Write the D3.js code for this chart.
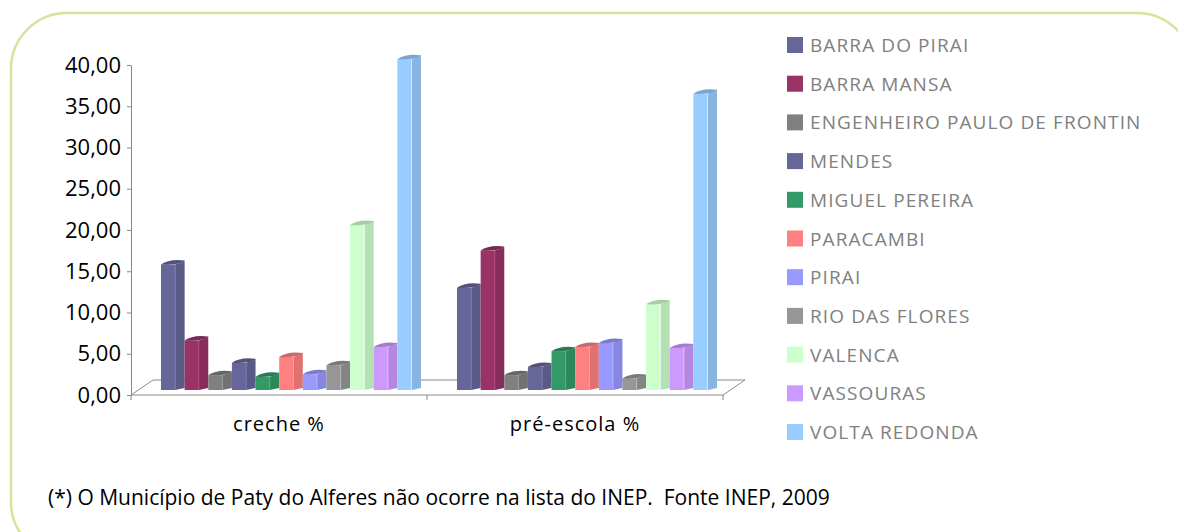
<!DOCTYPE html>
<html>
<head>
  <meta charset="utf-8">
  <title>Creche e pré-escola</title>
  <script src="https://d3js.org/d3.v7.min.js"></script>
  <style>
    body { margin: 0; background: #ffffff; font-family: 'Open Sans', sans-serif; }
    svg { display: block; }
    .axis path, .axis line { stroke: #868686; }
  </style>
</head>
<body>
  <div id="chart"></div>
  <script>
    // data
    const categories = ["creche %", "pré-escola %"];
    const municipios = ["BARRA DO PIRAI", "BARRA MANSA", "ENGENHEIRO PAULO DE FRONTIN", "MENDES",
      "MIGUEL PEREIRA", "PARACAMBI", "PIRAI", "RIO DAS FLORES", "VALENCA", "VASSOURAS", "VOLTA REDONDA"];
    const creche = [15.2, 6.0, 1.8, 3.3, 1.6, 4.0, 1.9, 3.0, 20.0, 5.2, 40.1];
    const preEscola = [12.4, 16.9, 1.8, 2.8, 4.7, 5.2, 5.7, 1.4, 10.4, 5.1, 35.9];
    const colors = ["#666699", "#993366", "#808080", "#666699", "#339966", "#ff8080",
      "#9999ff", "#969696", "#ccffcc", "#cc99ff", "#99ccff"];
    const yTicks = [0, 5, 10, 15, 20, 25, 30, 35, 40];
    const footnote = "(*) O Município de Paty do Alferes não ocorre na lista do INEP.  Fonte INEP, 2009";

    const W = 1178, H = 532;
    const svg = d3.select("#chart").append("svg").attr("width", W).attr("height", H);

    // rounded frame
    svg.append("rect")
      .attr("x", 11).attr("y", 13).attr("width", 1182).attr("height", 545)
      .attr("rx", 56).attr("ry", 56)
      .attr("fill", "none").attr("stroke", "#d7e39b").attr("stroke-width", 2.5);

    // scales
    const y = d3.scaleLinear().domain([0, 40]).range([395, 65]);
    const x = d3.scaleBand().domain(categories).range([131, 723]);
    const xi = d3.scaleBand().domain(municipios).range([18, 278]);
    const depth = { dx: 22, dy: -15 };     // floor depth
    const barShift = { dx: 12, dy: -5 };   // bars sit in the middle of the floor

    // floor
    const x0 = x.range()[0], x1 = x.range()[1], y0 = y(0);
    svg.append("path")
      .attr("d", `M${x0},${y0} L${x1},${y0} L${x1 + depth.dx},${y0 + depth.dy} L${x0 + depth.dx},${y0 + depth.dy} Z`)
      .attr("fill", "none").attr("stroke", "#8c8c8c").attr("stroke-width", 1);

    // x ticks at band edges
    const edges = categories.map(c => x(c)).concat([x1]);
    svg.selectAll(".xtick").data(edges).join("line")
      .attr("x1", d => d).attr("x2", d => d)
      .attr("y1", y0).attr("y2", y0 + 5)
      .attr("stroke", "#868686");

    // y axis
    svg.append("g")
      .attr("class", "axis")
      .attr("transform", `translate(${x0},0)`)
      .call(d3.axisLeft(y).tickValues(yTicks).tickSize(4).tickSizeOuter(0)
        .tickFormat(d => d.toFixed(2).replace(".", ",")))
      .call(g => g.selectAll("text").attr("x", -10)
        .attr("fill", "#000").style("font-size", "22px").style("font-family", "'Open Sans', sans-serif"));

    // bars
    const series = [creche, preEscola];
    const groups = svg.selectAll(".grp").data(categories).join("g")
      .attr("class", "grp")
      .attr("transform", (c) => `translate(${x(c) + barShift.dx},${barShift.dy})`);

    const bw = xi.bandwidth();
    groups.each(function (c, gi) {
      const g = d3.select(this);
      const rows = municipios.map((m, i) => ({ m, v: series[gi][i], col: colors[i] }));
      const bar = g.selectAll(".bar").data(rows).join("g").attr("class", "bar");
      const split = 0.6;
      // front face
      bar.append("rect")
        .attr("x", d => xi(d.m)).attr("y", d => y(d.v))
        .attr("width", bw * split).attr("height", d => y0 - y(d.v))
        .attr("fill", d => d.col);
      // side face
      bar.append("path")
        .attr("d", d => {
          const a = xi(d.m) + bw * split, b = xi(d.m) + bw, t = y(d.v);
          return `M${a},${t} L${b},${t - 3} L${b},${y0 - 2} L${a},${y0} Z`;
        })
        .attr("fill", d => d3.color(d.col).darker(0.35));
      // edge highlight
      bar.append("line")
        .attr("x1", d => xi(d.m) + bw * split).attr("x2", d => xi(d.m) + bw * split)
        .attr("y1", d => y(d.v)).attr("y2", y0)
        .attr("stroke", d => d3.color(d.col).brighter(0.6)).attr("stroke-width", 0.8);
      // cap
      bar.append("path")
        .attr("d", d => {
          const a = xi(d.m), b = a + bw, t = y(d.v);
          return `M${a},${t} Q${a + bw * 0.35},${t - 6} ${b},${t - 4} L${b},${t - 3} Q${a + bw * 0.6},${t + 1} ${a},${t} Z`;
        })
        .attr("fill", d => d3.color(d.col).darker(0.6));
    });

    // category labels
    svg.selectAll(".cat").data(categories).join("text")
      .attr("x", c => x(c) + x.bandwidth() / 2)
      .attr("y", 431)
      .attr("text-anchor", "middle")
      .style("font-size", "20px")
      .style("letter-spacing", "1px")
      .attr("fill", "#000")
      .text(c => c);

    // legend
    const leg = svg.selectAll(".leg").data(municipios).join("g")
      .attr("transform", (d, i) => `translate(787,${45 + i * 38.7})`);
    leg.append("rect").attr("x", 0).attr("y", -8).attr("width", 16).attr("height", 16)
      .attr("fill", (d, i) => colors[i]);
    leg.append("text").attr("x", 23).attr("y", 7)
      .style("font-size", "19px").style("letter-spacing", "1.1px").attr("fill", "#808080")
      .text(d => d);

    // footnote
    svg.append("text")
      .attr("x", 48).attr("y", 505)
      .style("font-size", "21px").attr("fill", "#000")
      .attr("xml:space", "preserve")
      .style("white-space", "pre")
      .text(footnote);
  </script>
</body>
</html>
